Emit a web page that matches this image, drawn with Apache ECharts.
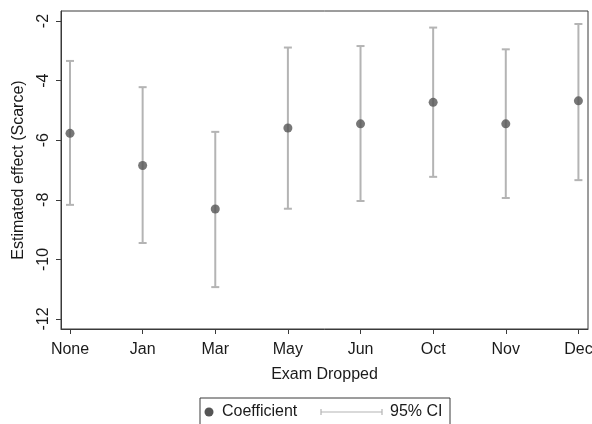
<!DOCTYPE html>
<html>
<head>
<meta charset="utf-8">
<script src="https://cdn.jsdelivr.net/npm/echarts@6/dist/echarts.min.js"></script>
<style>
html,body{margin:0;padding:0;background:#fff;}
#chart{width:592px;height:424px;}
</style>
</head>
<body>
<div id="chart"></div>
<script>
// ---- data ----
var categories = ['None', 'Jan', 'Mar', 'May', 'Jun', 'Oct', 'Nov', 'Dec'];
var coef   = [-5.77, -6.85, -8.31, -5.59, -5.45, -4.73, -5.45, -4.68];
var ciLow  = [-8.17, -9.45, -10.93, -8.30, -8.04, -7.23, -7.94, -7.34];
var ciHigh = [-3.34, -4.22, -5.72, -2.89, -2.84, -2.22, -2.95, -2.10];
var yTicks = [-12, -10, -8, -6, -4, -2];
var xTicks = categories.map(function (c, i) { return i; });

var FONT = '"Liberation Sans", Arial, sans-serif';
var FS = 16;
var TXT = '#1a1a1a';
var FRAME = '#3a3a3a';
var CI_COLOR = '#b4b4b4';
var PT_COLOR = '#555555';

var pointData = coef.map(function (v, i) { return [i, v]; });
var ciData = ciLow.map(function (v, i) { return [i, v, ciHigh[i]]; });

var chart = echarts.init(document.getElementById('chart'), null, {renderer: 'canvas'});
chart.setOption({
  animation: false,
  backgroundColor: '#ffffff',
  textStyle: {fontFamily: FONT},
  grid: {left: 61, right: 4, top: 11, bottom: 95, show: true, borderColor: FRAME, borderWidth: 1, backgroundColor: 'transparent', containLabel: false, outerBoundsMode: 'none'},
  xAxis: {
    type: 'value', min: -0.124, max: 7.132,
    axisLine: {show: true, onZero: false, lineStyle: {color: FRAME, width: 1}},
    axisTick: {show: true, inside: false, length: 5, customValues: xTicks, lineStyle: {color: FRAME, width: 1}},
    splitLine: {show: false},
    axisLabel: {
      customValues: xTicks,
      margin: 13, color: TXT, fontSize: FS, fontFamily: FONT,
      formatter: function (v) { return categories[Math.round(v)] || ''; }
    },
    name: 'Exam Dropped', nameLocation: 'middle', nameGap: 38,
    nameTextStyle: {color: TXT, fontSize: FS, fontFamily: FONT}
  },
  yAxis: {
    type: 'value', min: -12.336, max: -1.664,
    axisLine: {show: true, onZero: false, lineStyle: {color: FRAME, width: 1}},
    axisTick: {show: true, inside: false, length: 5, customValues: yTicks, lineStyle: {color: FRAME, width: 1}},
    splitLine: {show: false},
    axisLabel: {customValues: yTicks, margin: 9, rotate: 90, color: TXT, fontSize: FS, fontFamily: FONT},
    name: 'Estimated effect (Scarce)', nameLocation: 'middle', nameGap: 34,
    nameTextStyle: {color: TXT, fontSize: FS, fontFamily: FONT}
  },
  series: [
    {
      type: 'custom', data: ciData,
      renderItem: function (params, api) {
        var x = api.value(0);
        var lo = api.coord([x, api.value(1)]);
        var hi = api.coord([x, api.value(2)]);
        var hw = 4;
        var st = {stroke: CI_COLOR, lineWidth: 2, fill: null};
        return {
          type: 'group',
          children: [
            {type: 'line', shape: {x1: lo[0], y1: lo[1], x2: hi[0], y2: hi[1]}, style: st},
            {type: 'line', shape: {x1: lo[0] - hw, y1: lo[1], x2: lo[0] + hw, y2: lo[1]}, style: st},
            {type: 'line', shape: {x1: hi[0] - hw, y1: hi[1], x2: hi[0] + hw, y2: hi[1]}, style: st}
          ]
        };
      },
      z: 2
    },
    {
      type: 'scatter', data: pointData,
      symbol: 'circle', symbolSize: 9,
      itemStyle: {color: PT_COLOR},
      z: 3
    }
  ],
  graphic: [
    {type: 'rect', shape: {x: 200, y: 398, width: 250, height: 40},
     style: {fill: '#fff', stroke: FRAME, lineWidth: 1}},
    {type: 'circle', shape: {cx: 209, cy: 412, r: 4.5}, style: {fill: PT_COLOR}},
    {type: 'text', x: 222, y: 412, style: {text: 'Coefficient', fill: TXT, font: FS + 'px ' + FONT, verticalAlign: 'middle'}},
    {type: 'line', shape: {x1: 321, y1: 412, x2: 382, y2: 412}, style: {stroke: CI_COLOR, lineWidth: 1.2}},
    {type: 'line', shape: {x1: 321, y1: 409, x2: 321, y2: 415}, style: {stroke: CI_COLOR, lineWidth: 1.2}},
    {type: 'line', shape: {x1: 382, y1: 409, x2: 382, y2: 415}, style: {stroke: CI_COLOR, lineWidth: 1.2}},
    {type: 'text', x: 390, y: 412, style: {text: '95% CI', fill: TXT, font: FS + 'px ' + FONT, verticalAlign: 'middle'}}
  ]
});
</script>
</body>
</html>
